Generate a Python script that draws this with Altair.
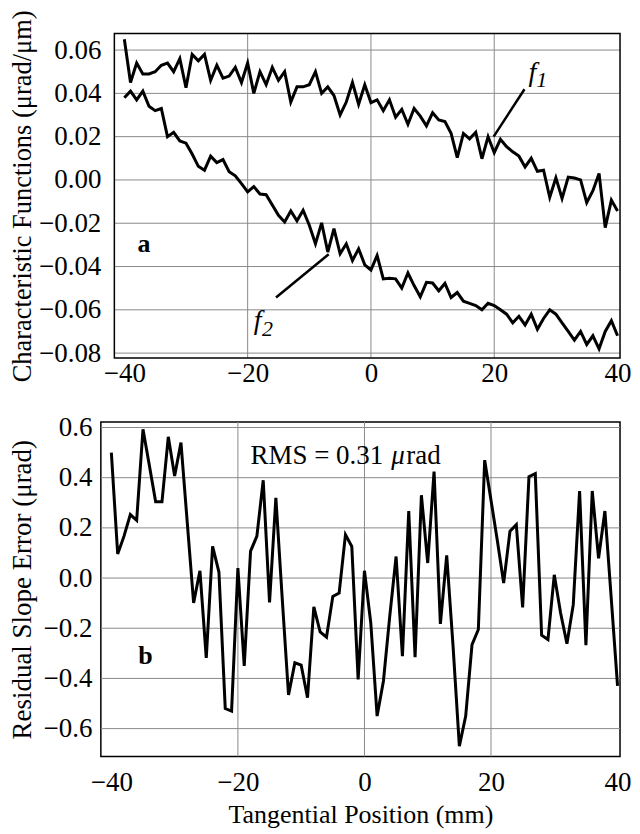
import altair as alt
import pandas as pd

FONT = "Liberation Serif"

# ---------------- data ----------------
x_mm = list(range(-40, 41))

f1 = [0.065, 0.045, 0.054, 0.049, 0.049, 0.050, 0.053, 0.054, 0.050, 0.056,
      0.0426, 0.058, 0.055, 0.058, 0.046, 0.053, 0.047, 0.048, 0.052, 0.045,
      0.054, 0.040, 0.050, 0.044, 0.052, 0.046, 0.050, 0.036, 0.043, 0.043,
      0.044, 0.050, 0.040, 0.043, 0.039, 0.030, 0.036, 0.045, 0.035, 0.044,
      0.0357, 0.037, 0.032, 0.037, 0.029, 0.0326, 0.0257, 0.033, 0.0295, 0.025,
      0.031, 0.0277, 0.027, 0.0215, 0.0103, 0.0215, 0.019, 0.022, 0.0098, 0.020,
      0.0126, 0.0188, 0.0154, 0.013, 0.011, 0.006, 0.010, 0.004, 0.0045, -0.008,
      0.001, -0.0085, 0.0013, 0.0009, 0.0, -0.0105, -0.005, 0.003, -0.022, -0.0093,
      -0.0143]

f2 = [0.038, 0.041, 0.037, 0.041, 0.034, 0.032, 0.033, 0.020, 0.022, 0.018,
      0.017, 0.012, 0.0063, 0.0045, 0.011, 0.008, 0.0094, 0.0038, 0.0019, -0.0017,
      -0.0055, -0.0031, -0.0065, -0.0068, -0.0116, -0.0163, -0.0194, -0.0143, -0.0189, -0.014,
      -0.0209, -0.0295, -0.0198, -0.0333, -0.0225, -0.0341, -0.0295, -0.0372, -0.0318, -0.0392,
      -0.0416, -0.0349, -0.0457, -0.0454, -0.0457, -0.050, -0.043, -0.0488, -0.054, -0.0473,
      -0.0476, -0.0512, -0.0478, -0.0543, -0.052, -0.056, -0.057, -0.058, -0.060, -0.057,
      -0.058, -0.060, -0.062, -0.066, -0.063, -0.067, -0.062, -0.069, -0.064, -0.060,
      -0.062, -0.066, -0.070, -0.074, -0.070, -0.076, -0.072, -0.078, -0.070, -0.065,
      -0.072]

resid = [0.50, 0.096, 0.167, 0.253, 0.23, 0.593, 0.45, 0.304, 0.304, 0.563,
         0.407, 0.54, 0.22, -0.099, 0.029, -0.318, 0.126, 0.024, -0.52, -0.53,
         0.04, -0.35, 0.107, 0.167, 0.39, -0.097, 0.32, -0.08, -0.466, -0.338,
         -0.347, -0.477, -0.115, -0.215, -0.236, -0.073, -0.06, 0.173, 0.126, -0.404,
         0.029, -0.179, -0.55, -0.41, -0.152, 0.086, -0.311, 0.267, -0.315, 0.33,
         0.06, 0.424, -0.183, 0.09, -0.27, -0.67, -0.55, -0.265, -0.205, 0.47,
         0.31, 0.15, -0.02, 0.187, 0.213, -0.117, 0.404, 0.416, -0.228, -0.245,
         0.013, -0.139, -0.262, -0.106, 0.347, -0.268, 0.347, 0.079, 0.267, -0.08,
         -0.43]

x_ticks = [-40, -20, 0, 20, 40]
x_grid = [-20, 0, 20]
top_y_ticks = [-0.08, -0.06, -0.04, -0.02, 0.0, 0.02, 0.04, 0.06]
bot_y_ticks = [-0.6, -0.4, -0.2, 0.0, 0.2, 0.4, 0.6]

# top panel: scale range reaches left of its frame so that the frame sits further right
top_x_domain = [-43.81, 40.40]
top_frame_x = [-41.62, 40.40]
top_y_domain = [-0.0823, 0.0676]
bot_x_domain = [-41.66, 40.39]
bot_y_domain = [-0.711, 0.622]

# annotations
leader_x = [19.9, -6.85]
leader_y = [0.020, -0.0343]
leader_x2 = [24.9, -15.4]
leader_y2 = [0.0419, -0.0543]

f_letter_x = [26.2, -18.4]
f_letter_y = [0.0495, -0.0652]
f_sub_x = [27.7, -16.8]
f_sub_y = [0.0462, -0.0689]
f_sub_text = ["1", "2"]

panel_letter = ["a", "b"]
panel_letter_x = [-36.8, -34.6]
panel_letter_y = [-0.0297, -0.31]

rms_parts = ["RMS = 0.31", "\u03bc", "rad"]
rms_x = -18.0
rms_y = 0.486

# ---------------- tables ----------------
top_df = pd.DataFrame({
    "x": x_mm + x_mm,
    "v": f1 + f2,
    "s": ["f1"] * len(f1) + ["f2"] * len(f2),
})
bot_df = pd.DataFrame({"x": x_mm, "v": resid})

top_vgrid_df = pd.DataFrame({"x": x_grid, "y": [top_y_domain[0]] * len(x_grid),
                             "y2": [top_y_domain[1]] * len(x_grid)})
top_hgrid_df = pd.DataFrame({"y": top_y_ticks, "x": [top_frame_x[0]] * len(top_y_ticks),
                             "x2": [top_frame_x[1]] * len(top_y_ticks)})
frame_df = pd.DataFrame({"x": [top_frame_x[0]], "x2": [top_frame_x[1]],
                         "y": [top_y_domain[0]], "y2": [top_y_domain[1]]})
bot_vgrid_df = pd.DataFrame({"x": x_grid, "y": [bot_y_domain[0]] * len(x_grid),
                             "y2": [bot_y_domain[1]] * len(x_grid)})
bot_hgrid_df = pd.DataFrame({"y": bot_y_ticks, "x": [bot_x_domain[0]] * len(bot_y_ticks),
                             "x2": [bot_x_domain[1]] * len(bot_y_ticks)})

lead_df = pd.DataFrame({"x": leader_x, "y": leader_y, "x2": leader_x2, "y2": leader_y2})
fl_df = pd.DataFrame({"x": f_letter_x, "y": f_letter_y, "t": ["f", "f"]})
fs_df = pd.DataFrame({"x": f_sub_x, "y": f_sub_y, "t": f_sub_text})
a_df = pd.DataFrame({"x": [panel_letter_x[0]], "y": [panel_letter_y[0]], "t": [panel_letter[0]]})
b_df = pd.DataFrame({"x": [panel_letter_x[1]], "y": [panel_letter_y[1]], "t": [panel_letter[1]]})
rms_df = pd.DataFrame({"x": [rms_x], "y": [rms_y], "t1": [rms_parts[0]],
                       "t2": [rms_parts[1]], "t3": [rms_parts[2]]})

GRID = "#8a8a8a"


def xaxis(title=None, label_pad=2, title_pad=4):
    kw = dict(values=x_ticks, format="d", ticks=False, domain=False, grid=False,
              labelFont=FONT, labelFontSize=27,
              labelPadding=label_pad, labelColor="black")
    if title:
        kw.update(title=title, titleFont=FONT, titleFontSize=26, titleFontWeight="normal",
                  titlePadding=title_pad, titleColor="black")
    else:
        kw.update(title=None)
    return alt.Axis(**kw)


def yaxis(title, values, fmt, label_pad, title_pad, title_size):
    return alt.Axis(values=values, format=fmt, ticks=False, domain=False, grid=False,
                    labelFont=FONT, labelFontSize=27,
                    labelPadding=label_pad, labelColor="black", title=title,
                    titleFont=FONT, titleFontSize=title_size, titleFontWeight="normal",
                    titlePadding=title_pad, titleColor="black")


def grid_layers(vdf, hdf, sx, sy):
    v = alt.Chart(vdf).mark_rule(color=GRID, strokeWidth=1).encode(
        x=alt.X("x:Q", scale=sx), y=alt.Y("y:Q", scale=sy), y2="y2:Q")
    h = alt.Chart(hdf).mark_rule(color=GRID, strokeWidth=1).encode(
        y=alt.Y("y:Q", scale=sy), x=alt.X("x:Q", scale=sx), x2="x2:Q")
    return v, h


# ---------------- top panel ----------------
tsx = alt.Scale(domain=top_x_domain, nice=False, zero=False)
tsy = alt.Scale(domain=top_y_domain, nice=False, zero=False)
tx = alt.X("x:Q", scale=tsx, axis=xaxis(label_pad=2))
ty = alt.Y("v:Q", scale=tsy,
           axis=yaxis("Characteristic Functions (\u03bcrad/\u03bcm)", top_y_ticks, ".2f", 0, 2,
                      26.5))

top_vgrid, top_hgrid = grid_layers(top_vgrid_df, top_hgrid_df, tsx, tsy)
top_frame = alt.Chart(frame_df).mark_rect(filled=False, stroke="black", strokeWidth=1.5).encode(
    x=alt.X("x:Q", scale=tsx), x2="x2:Q", y=alt.Y("y:Q", scale=tsy), y2="y2:Q")

top_lines = alt.Chart(top_df).mark_line(color="black", strokeWidth=3).encode(
    x=tx, y=ty, detail="s:N")

top_lead = alt.Chart(lead_df).mark_rule(color="black", strokeWidth=2.5).encode(
    x=alt.X("x:Q", scale=tsx), y=alt.Y("y:Q", scale=tsy), x2="x2:Q", y2="y2:Q")
top_f = alt.Chart(fl_df).mark_text(font=FONT, fontSize=28, fontStyle="italic",
                                   align="center", baseline="middle", color="black").encode(
    x=alt.X("x:Q", scale=tsx), y=alt.Y("y:Q", scale=tsy), text="t:N")
top_fs = alt.Chart(fs_df).mark_text(font=FONT, fontSize=22, fontStyle="italic",
                                    align="center", baseline="middle", color="black").encode(
    x=alt.X("x:Q", scale=tsx), y=alt.Y("y:Q", scale=tsy), text="t:N")
top_a = alt.Chart(a_df).mark_text(font=FONT, fontSize=26, fontWeight="bold",
                                  align="center", baseline="middle", color="black").encode(
    x=alt.X("x:Q", scale=tsx), y=alt.Y("y:Q", scale=tsy), text="t:N")

top = alt.layer(top_vgrid, top_hgrid, top_lines, top_frame, top_lead, top_f, top_fs, top_a
                ).properties(width=520, height=325,
                             view=alt.ViewBackground(stroke="transparent"))

# ---------------- bottom panel ----------------
bsx = alt.Scale(domain=bot_x_domain, nice=False, zero=False)
bsy = alt.Scale(domain=bot_y_domain, nice=False, zero=False)
bx = alt.X("x:Q", scale=bsx,
           axis=xaxis(title="Tangential Position (mm)", label_pad=13, title_pad=6))
by = alt.Y("v:Q", scale=bsy,
           axis=yaxis("Residual Slope Error (\u03bcrad)", bot_y_ticks, ".1f", 9, 6, 27))

bot_vgrid, bot_hgrid = grid_layers(bot_vgrid_df, bot_hgrid_df, bsx, bsy)
bot_line = alt.Chart(bot_df).mark_line(color="black", strokeWidth=3).encode(x=bx, y=by)
bot_b = alt.Chart(b_df).mark_text(font=FONT, fontSize=26, fontWeight="bold",
                                  align="center", baseline="middle", color="black").encode(
    x=alt.X("x:Q", scale=bsx), y=alt.Y("y:Q", scale=bsy), text="t:N")
rms_base = alt.Chart(rms_df).encode(x=alt.X("x:Q", scale=bsx), y=alt.Y("y:Q", scale=bsy))
bot_rms1 = rms_base.mark_text(font=FONT, fontSize=27, align="left", baseline="middle",
                              color="black").encode(text="t1:N")
bot_rms2 = rms_base.mark_text(font=FONT, fontSize=27, fontStyle="italic", align="left",
                              baseline="middle", color="black", dx=141).encode(text="t2:N")
bot_rms3 = rms_base.mark_text(font=FONT, fontSize=27, align="left", baseline="middle",
                              color="black", dx=156).encode(text="t3:N")

bottom = alt.layer(bot_vgrid, bot_hgrid, bot_line, bot_b, bot_rms1, bot_rms2, bot_rms3
                   ).properties(width=520, height=335)

chart = alt.vconcat(top, bottom, spacing=25).properties(
    padding={"left": 0, "top": 0, "right": 0, "bottom": 0}
).configure_view(stroke="black", strokeWidth=1.5).configure_axis(
    labelFont=FONT, titleFont=FONT
)

chart.save("out.html", embed_options={"renderer": "svg", "actions": False})
